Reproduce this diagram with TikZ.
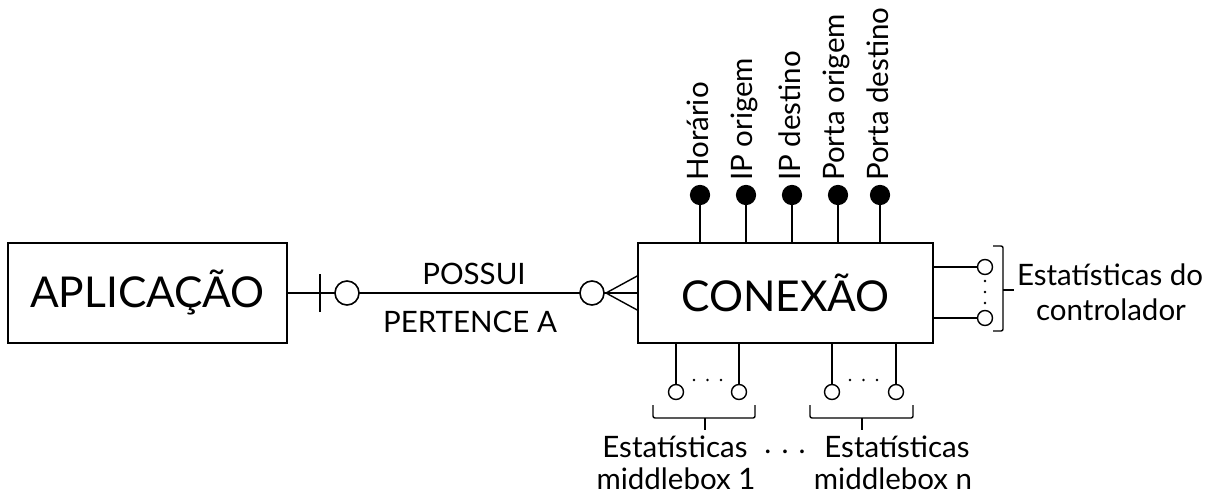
\documentclass[tikz,border=0pt]{standalone}
\usepackage{fontspec}
\setmainfont{Lato}
\usetikzlibrary{positioning}

\tikzset{
  entity/.style={draw,line width=1.6pt,minimum width=279pt,minimum height=100pt,inner sep=0pt,font=\fontsize{42.5}{48}\selectfont},
  keyattr/.style={circle,fill=black,draw,line width=1.2pt,minimum size=19pt,inner sep=0pt},
  optattr/.style={circle,fill=white,draw,line width=1.4pt,minimum size=15pt,inner sep=0pt},
  relcirc/.style={circle,fill=white,draw,line width=1.6pt,minimum size=24pt,inner sep=0pt},
  lbl/.style={font=\fontsize{29.5}{34}\selectfont,inner sep=0pt},
  rellbl/.style={font=\fontsize{29.5}{34}\selectfont,inner sep=0pt},
  conn/.style={line width=1.4pt},
  brkt/.style={line width=1.4pt,rounded corners=2pt},
  dot/.style={circle,fill=black,minimum size=2.6pt,inner sep=0pt}
}

\begin{document}
\begin{tikzpicture}[x=1pt,y=-1pt]
  \useasboundingbox (0,0) rectangle (1215,495);

  % entities
  \node[entity] (app) at (147.5,293) {APLICAÇÃO};
  \node[entity,minimum width=295pt] (cx) at (785.5,293) {CONEXÃO};

  % relationship
  \draw[conn] (app.east) -- (cx.west);
  \coordinate (bar) at (320,293);
  \draw[conn] ([yshift=-19pt]bar) -- ([yshift=19pt]bar);
  \node[relcirc] (one) at (347,293) {};
  \node[relcirc] (many) at (592,293) {};
  \coordinate (foot) at (606,293);
  \draw[conn] (foot) -- ([yshift=17pt]cx.west);
  \draw[conn] (foot) -- ([yshift=-17pt]cx.west);
  \node[rellbl] (possui) at (474,274) {POSSUI};
  \node[rellbl] (pertence) at (470,322) {PERTENCE A};

  % key attributes on top
  \foreach \x/\t/\n in {700/Horário/h,746/IP origem/ipo,792/IP destino/ipd,838/Porta origem/po,880/Porta destino/pd}{
    \node[keyattr] (k\n) at (\x,195) {};
    \draw[conn] (k\n) -- (k\n |- cx.north);
    \node[lbl,rotate=90,anchor=west] (t\n) at (\x-2,181) {\t};
  }

  % controller statistics
  \node[optattr] (c1) at (985,267) {};
  \node[optattr] (c2) at (985,318) {};
  \draw[conn] (c1) -- (c1 -| cx.east);
  \draw[conn] (c2) -- (c2 -| cx.east);
  \foreach \y in {281,292,303}{
    \node[dot] at (985,\y) {};
  }
  \draw[brkt] (993,246) -- (1003,246) -- (1003,331) -- (993,331);
  \coordinate (ctick) at (1003,290);
  \draw[conn] (ctick) -- ++(11,0);
  \node[lbl] (ctl1) at (1110,275) {Estatísticas do};
  \node[lbl] (ctl2) at (1111,310) {controlador};

  % middlebox statistics
  \foreach \x in {676,739,832,896}{
    \node[optattr] (m\x) at (\x,392) {};
    \draw[conn] (m\x) -- (m\x |- cx.south);
  }
  \foreach \x in {694,707.5,721,850,863.5,877}{
    \node[dot] at (\x,380) {};
  }
  \draw[brkt] (653,405) -- (653,418) -- (755,418) -- (755,405);
  \draw[conn] (705,418) -- (705,430);
  \draw[brkt] (810,405) -- (810,418) -- (913,418) -- (913,405);
  \draw[conn] (862,418) -- (862,430);
  \node[lbl] (mb1a) at (675,447) {Estatísticas};
  \node[lbl] (mb1b) at (676,479) {middlebox 1};
  \node[lbl] (mbna) at (897,447) {Estatísticas};
  \node[lbl] (mbnb) at (893,479) {middlebox n};
  \node[lbl] (mbdots) at (785,452) {. . .};
\end{tikzpicture}
\end{document}
